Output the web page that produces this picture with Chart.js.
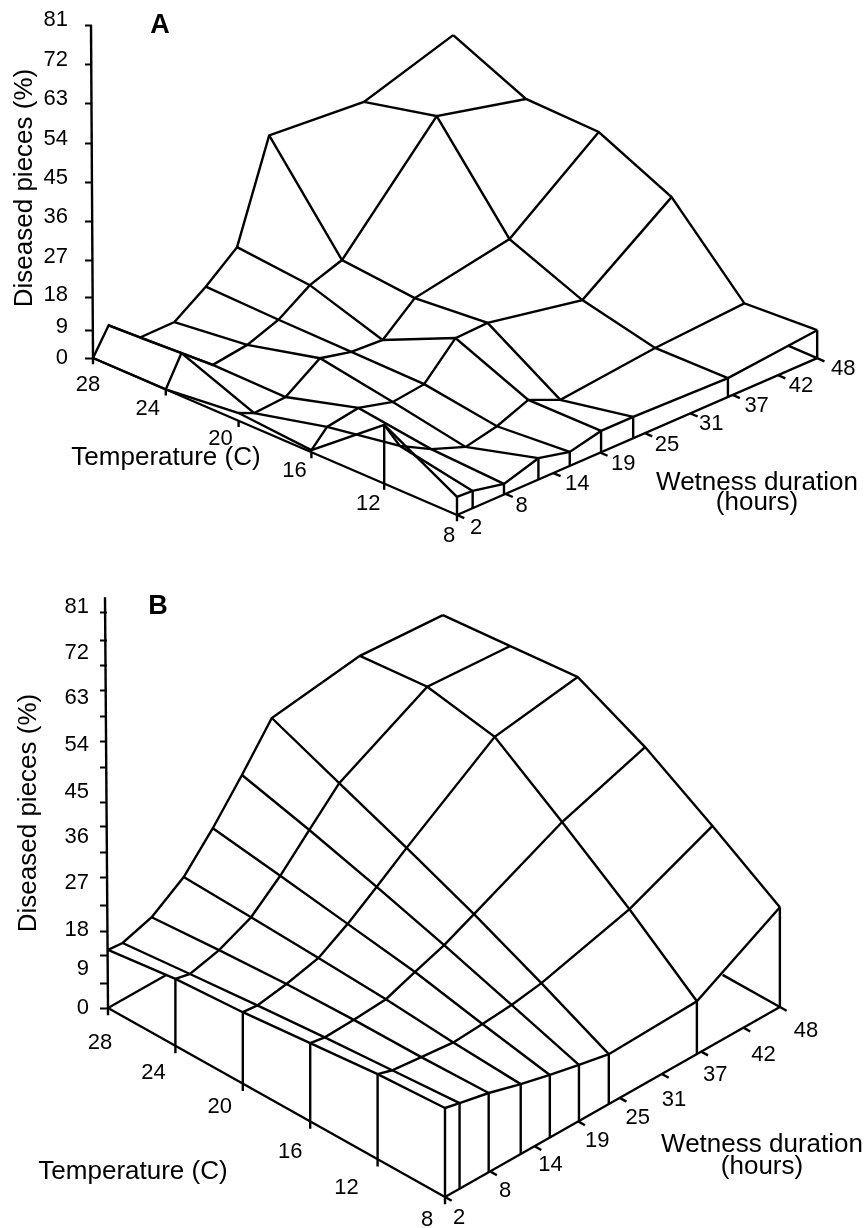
<!DOCTYPE html>
<html>
<head>
<meta charset="utf-8">
<title>Diseased pieces surfaces</title>
<script src="https://cdn.jsdelivr.net/npm/chart.js@4/dist/chart.umd.js"></script>
<style>
    html, body { margin: 0; padding: 0; background: #fff; overflow: hidden; }
    canvas { display: block; }
</style>
</head>
<body>
<canvas id="chartA" width="867" height="570"></canvas>
<canvas id="chartB" width="867" height="658"></canvas>
<script>
// grid of the two surfaces
const tempGrid = [28, 24, 20, 16, 12, 8];
const wetGrid = [2, 4, 8, 12.4, 16.4, 20.4, 24.5, 36.6, 48];

// printed tick labels
const tempLabels = ["28", "24", "20", "16", "12", "8"];
const wetLabels = ["2", "8", "14", "19", "25", "31", "37", "42", "48"];
const wetTickAt = [2, 8.2, 14.3, 20.3, 26, 31.8, 37.2, 43, 48];
const zLabels = ["0", "9", "18", "27", "36", "45", "54", "63", "72", "81"];

const obs28 = [0, 6.3, 0, 0.1, 5.4, 11.7, 35.5, 33.6, 40.4];
const obs24 = [0, 7.2, 1, 2.2, 5, 10.1, 12.8, 37.8, 32.5];
const obs20 = [1.9, 0.2, 0.8, 6.6, 4.8, 4.4, 11.2, 15.5, 32.1];
const obs16 = [0.5, 4.5, 5.8, 3.6, 4.6, 12.5, 12.8, 8.3, 23.9];
const obs12 = [14.3, 7.5, 3.4, 0.3, 2, 5.1, 1.7, 4.3, 5.7];
const obs8 = [4.4, 4.2, 2.6, 5.2, 3.4, 5.2, 5.2, 4.6, 6.8];

// panel B, fitted %
const fit28 = [11.9, 11.6, 13.5, 18, 24.6, 32.1, 40.3, 42.8, 41.5];
const fit24 = [13.7, 13, 14.5, 17.5, 22.6, 28.6, 34.7, 44.2, 42.9];
const fit20 = [14.6, 14.3, 15.3, 16.9, 20.5, 24.7, 29.2, 41.7, 44.3];
const fit16 = [16, 15.5, 15.7, 16.2, 18.4, 20.5, 23.4, 32, 37.7];
const fit12 = [17.4, 16.5, 15.8, 15.1, 15.5, 16, 17, 21.9, 29.3];
const fit8 = [18.2, 17.5, 16.2, 14.3, 12.8, 11.5, 10.2, 10.8, 20.4];

const fontName = '"Liberation Sans", Arial, sans-serif';

const panelA = {
    canvas: "chartA", height: 570, letter: "A", letterAt: [160, 26],
    zeroX: 93, zeroY: 358, pxPerZ: 4.11,
    tempDx: 18.2, tempDy: 7.85, wetDx: 7.83, wetDy: 3.41,
    rows: [obs28, obs24, obs20, obs16, obs12, obs8],
    spineTop: [91, 81], marksX: 92, labelsX: 68,
    zMarks: [0, 6.8, 14.6, 23.8, 33.3, 42.8, 52.3, 62, 71.3, 81],
    zLabelAt: [0, 7.5, 15.3, 24.6, 34.3, 43.8, 53.3, 63, 72.5, 82.2],
    stubTemp: 9.6, stubWet: 2,
    tempShift: [[-5, 27], [-18, 20], [-18, 18], [-17, 19], [-16, 20], [-8, 21]],
    wetShift: [[19, 13], [16, 12], [24, 11], [23, 11], [22, 12], [21, 11], [24, 11], [23, 11], [26, 11]],
    yTitleAt: [25, 188], tempTitleAt: [166, 458], wetTitleAt: [757, 483], hoursAt: [757, 503]
};

const panelB = {
    canvas: "chartB", height: 658, letter: "B", letterAt: [158, 37],
    zeroX: 108, zeroY: 438, pxPerZ: 4.89,
    tempDx: 16.85, tempDy: 9.45, wetDx: 7.28, wetDy: 4.13,
    rows: [fit28, fit24, fit20, fit16, fit12, fit8],
    spineTop: [105, 84], marksX: 106.5, labelsX: 89,
    zMarks: [0, 5.1, 10.8, 15.7, 21, 26.6, 31.7, 37.2, 42.1, 49.2, 54.5, 59.6, 64.9, 70, 75.1, 80.8],
    zLabelAt: [0, 8, 16, 25.6, 35, 44.2, 53.8, 63.4, 72.6, 82],
    stubTemp: 11.4, stubWet: 10,
    tempShift: [[-8, 35], [-22, 27], [-23, 23], [-20, 31], [-31, 29], [-18, 23]],
    wetShift: [[14, 21], [15, 20], [16, 19], [19, 20], [18, 20], [12, 26], [14, 23], [20, 27], [26, 24]],
    yTitleAt: [29, 243], tempTitleAt: [133, 602], wetTitleAt: [762, 575], hoursAt: [762, 597]
};

// oblique projection: temperature and wetness shift the point, z lifts it
function project(panel, temp, wet, z) {
    return {
        x: panel.zeroX + (28 - temp) * panel.tempDx + (wet - 2) * panel.wetDx,
        y: z + ((wet - 2) * panel.wetDy - (28 - temp) * panel.tempDy) / panel.pxPerZ
    };
}

function wire(points) {
    return {
        data: points,
        showLine: true,
        borderColor: "#000",
        borderWidth: 2.4,
        pointRadius: 0,
        tension: 0
    };
}

function buildDatasets(panel) {
    const sets = [];

    // lines along wetness, one per temperature
    panel.rows.forEach((row, t) => {
        sets.push(wire(row.map((z, w) => project(panel, tempGrid[t], wetGrid[w], z))));
    });
    // lines along temperature, one per wetness
    wetGrid.forEach((wet, w) => {
        sets.push(wire(tempGrid.map((temp, t) => project(panel, temp, wet, panel.rows[t][w]))));
    });

    // base edges
    sets.push(wire([project(panel, 28, 2, 0), project(panel, 8, 2, 0)]));
    sets.push(wire([project(panel, 8, 2, 0), project(panel, 8, 48, 0)]));
    sets.push(wire([project(panel, 8, 48, 0), project(panel, panel.stubTemp, 48, 0)]));
    sets.push(wire([project(panel, 28, 2, 0), project(panel, 28, panel.stubWet, 0)]));

    // walls under the front edges
    wetGrid.forEach((wet, w) => {
        sets.push(wire([project(panel, 8, wet, panel.rows[5][w]), project(panel, 8, wet, 0)]));
    });
    tempGrid.forEach((temp, t) => {
        if (t > 0 && t < 5 && (panel.rows[t][0] > 5)) {
            sets.push(wire([project(panel, temp, 2, panel.rows[t][0]), project(panel, temp, 2, 0)]));
        }
    });

    // ticks on the two base axes
    tempGrid.forEach(temp => {
        const p = project(panel, temp, 2, 0);
        sets.push(wire([p, { x: p.x, y: p.y - 1.5 }]));
    });
    wetTickAt.forEach(wet => {
        sets.push(wire([project(panel, 8, wet, 0), project(panel, 7.6, wet, 0)]));
    });

    // the z axis line
    sets.push(wire([{ x: panel.zeroX, y: 0 }, { x: panel.spineTop[0], y: panel.spineTop[1] }]));
    return sets;
}

const textPlugin = {
    id: "panelText",
    afterDraw(chart, args, opts) {
        const panel = opts.panel;
        const ctx = chart.ctx;
        const sx = chart.scales.x;
        const sy = chart.scales.z;

        function put(text, x, y, font, angle) {
            ctx.save();
            ctx.translate(x, y);
            if (angle) ctx.rotate(angle);
            ctx.font = font;
            ctx.fillStyle = "#000";
            ctx.textAlign = "center";
            ctx.textBaseline = "middle";
            ctx.fillText(text, 0, 0);
            ctx.restore();
        }

        const tickFont = `22px ${fontName}`;
        const titleFont = `26px ${fontName}`;

        tempGrid.forEach((temp, i) => {
            const p = project(panel, temp, 2, 0);
            const s = panel.tempShift[i];
            put(tempLabels[i], sx.getPixelForValue(p.x) + s[0], sy.getPixelForValue(p.y) + s[1], tickFont);
        });
        wetTickAt.forEach((wet, i) => {
            const p = project(panel, 8, wet, 0);
            const s = panel.wetShift[i];
            put(wetLabels[i], sx.getPixelForValue(p.x) + s[0], sy.getPixelForValue(p.y) + s[1], tickFont);
        });

        put(panel.letter, panel.letterAt[0], panel.letterAt[1], `bold 27px ${fontName}`);
        put("Diseased pieces (%)", panel.yTitleAt[0], panel.yTitleAt[1], titleFont, -Math.PI / 2);
        put("Temperature (C)", panel.tempTitleAt[0], panel.tempTitleAt[1], titleFont);
        put("Wetness duration", panel.wetTitleAt[0], panel.wetTitleAt[1], titleFont);
        put("(hours)", panel.hoursAt[0], panel.hoursAt[1], titleFont);
    }
};

// the tick labels must not shrink the chart area
function noPadding(scale) {
    scale.paddingTop = 0;
    scale.paddingBottom = 0;
}

function createPanel(panel) {
    const ctx = document.getElementById(panel.canvas).getContext("2d");
    const zMax = panel.zeroY / panel.pxPerZ;
    const zMin = (panel.zeroY - panel.height) / panel.pxPerZ;

    return new Chart(ctx, {
        type: "scatter",
        data: { datasets: buildDatasets(panel).map(d => ({ ...d, xAxisID: "x", yAxisID: "z" })) },
        plugins: [textPlugin],
        options: {
            responsive: false,
            animation: false,
            events: [],
            layout: { padding: 0 },
            plugins: {
                legend: { display: false },
                tooltip: { enabled: false },
                panelText: { panel: panel }
            },
            scales: {
                x: { type: "linear", min: 0, max: 867, display: false },
                // printed numbers of the height axis
                z: {
                    type: "linear",
                    min: zMin,
                    max: zMax,
                    position: { x: panel.labelsX },
                    border: { display: false },
                    grid: { drawOnChartArea: false, drawTicks: false },
                    afterBuildTicks: scale => {
                        scale.ticks = panel.zLabelAt.map(v => ({ value: v }));
                    },
                    afterFit: noPadding,
                    ticks: {
                        autoSkip: false,
                        color: "#000",
                        padding: 0,
                        font: { family: fontName, size: 22 },
                        callback: (value, index) => zLabels[index]
                    }
                },
                // tick marks of the height axis
                zMarks: {
                    type: "linear",
                    axis: "y",
                    min: zMin,
                    max: zMax,
                    position: { x: panel.marksX },
                    border: { display: false },
                    grid: { drawOnChartArea: false, drawTicks: true, tickLength: 7, tickWidth: 2, tickColor: "#000" },
                    afterBuildTicks: scale => {
                        scale.ticks = panel.zMarks.map(v => ({ value: v }));
                    },
                    afterFit: noPadding,
                    ticks: { display: false, autoSkip: false }
                }
            }
        }
    });
}

document.addEventListener("DOMContentLoaded", () => {
    createPanel(panelA);
    createPanel(panelB);
});
</script>
</body>
</html>
